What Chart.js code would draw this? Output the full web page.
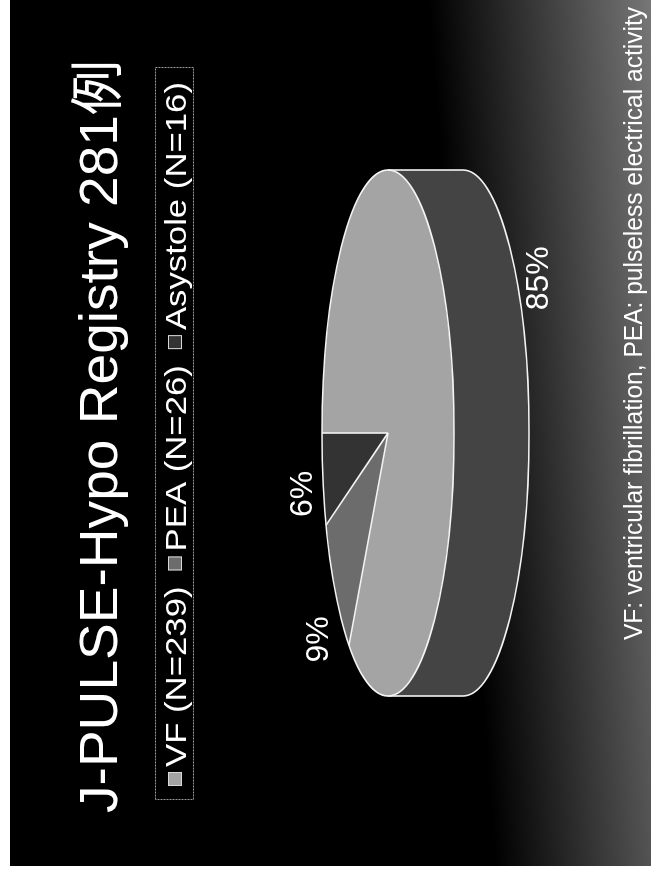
<!DOCTYPE html>
<html>
<head>
<meta charset="utf-8">
<script src="https://cdn.jsdelivr.net/npm/chart.js@4/dist/chart.umd.min.js"></script>
<style>
  html, body { margin: 0; padding: 0; background: #fff; overflow: hidden; }
  /* the slide is laid out landscape and turned a quarter turn counter-clockwise */
  #slide {
    position: absolute; left: 0; top: 0;
    width: 873px; height: 668px;
    transform-origin: 0 0;
    transform: translate(0, 873px) rotate(-90deg);
  }
  #c { display: block; }
</style>
</head>
<body>
<div id="slide"><canvas id="c" width="873" height="668"></canvas></div>
<script>
// ---- data ----
const titleText = 'J-PULSE-Hypo Registry 281例';
const categories = ['VF', 'PEA', 'Asystole'];
const counts = [239, 26, 16];
const footnote = 'VF: ventricular fibrillation, PEA: pulseless electrical activity';

// ---- styling ----
const topColors = ['#a4a4a4', '#6c6c6c', '#333333'];
const sideColors = ['#444444', '#3a3a3a', '#242424'];
const FONT = '"Liberation Sans", Arial, "Noto Sans CJK JP", sans-serif';
const TILT = 66 / 263;      // vertical squash of the pie top
const DEPTH = 75 / 263;     // wall height relative to the radius
const LABEL_R = 1.3;        // percentage labels sit just outside the rim

const total = counts.reduce((a, b) => a + b, 0);

function pieGeometry(chart) {
  const arcs = chart.getDatasetMeta(0).data;
  const p = arcs[0].getProps(['x', 'y', 'outerRadius'], true);
  return { arcs, cx: p.x, cy: p.y, r: p.outerRadius, ry: p.outerRadius * TILT, depth: p.outerRadius * DEPTH };
}

// dark slide with a grey wash towards its lower edge
const slideBackdrop = {
  id: 'slideBackdrop',
  beforeDraw(chart) {
    const ctx = chart.ctx;
    ctx.save();
    ctx.fillStyle = '#fff';
    ctx.fillRect(0, 0, chart.width, chart.height);
    const x = 7, y = 10, w = 866, h = 641;
    ctx.fillStyle = '#000';
    ctx.fillRect(x, y, w, h);
    const grad = ctx.createLinearGradient(440, 462, 457, 682);
    grad.addColorStop(0, 'rgba(0,0,0,1)');
    grad.addColorStop(1, 'rgb(118,118,118)');
    ctx.fillStyle = grad;
    ctx.fillRect(x, y, w, h);
    ctx.restore();
  }
};

// tilted pie: walls under the front rim, squashed top face, outlines and labels
const pie3d = {
  id: 'pie3d',
  beforeDatasetsDraw(chart) {
    const ctx = chart.ctx;
    const g = pieGeometry(chart);
    g.arcs.forEach((arc, i) => {
      const { startAngle: a0, endAngle: a1 } = arc.getProps(['startAngle', 'endAngle'], true);
      for (let k = -1; k <= 1; k++) {
        const s = Math.max(a0, 2 * Math.PI * k);
        const e = Math.min(a1, Math.PI + 2 * Math.PI * k);
        if (e > s) {
          ctx.beginPath();
          ctx.ellipse(g.cx, g.cy, g.r, g.ry, 0, s, e);
          ctx.ellipse(g.cx, g.cy + g.depth, g.r, g.ry, 0, e, s, true);
          ctx.closePath();
          ctx.fillStyle = sideColors[i];
          ctx.fill();
        }
      }
    });
    ctx.save();
    ctx.translate(0, g.cy);
    ctx.scale(1, TILT);
    ctx.translate(0, -g.cy);
  },
  afterDatasetsDraw(chart) {
    const ctx = chart.ctx;
    ctx.restore();
    const g = pieGeometry(chart);
    ctx.save();
    ctx.strokeStyle = '#f4f4f4';
    ctx.lineWidth = 1.6;
    ctx.lineJoin = 'round';
    // rim of the top face
    ctx.beginPath();
    ctx.ellipse(g.cx, g.cy, g.r, g.ry, 0, 0, 2 * Math.PI);
    ctx.stroke();
    // outer edge of the wall
    ctx.beginPath();
    ctx.moveTo(g.cx + g.r, g.cy);
    ctx.lineTo(g.cx + g.r, g.cy + g.depth);
    ctx.ellipse(g.cx, g.cy + g.depth, g.r, g.ry, 0, 0, Math.PI);
    ctx.lineTo(g.cx - g.r, g.cy);
    ctx.stroke();
    // slice edges
    g.arcs.forEach(arc => {
      const a = arc.getProps(['startAngle'], true).startAngle;
      ctx.beginPath();
      ctx.moveTo(g.cx, g.cy);
      ctx.lineTo(g.cx + g.r * Math.cos(a), g.cy + g.ry * Math.sin(a));
      ctx.stroke();
    });
    // percentages
    ctx.fillStyle = '#fff';
    ctx.font = '32px ' + FONT;
    ctx.textAlign = 'center';
    ctx.textBaseline = 'middle';
    g.arcs.forEach((arc, i) => {
      const { startAngle: a0, endAngle: a1 } = arc.getProps(['startAngle', 'endAngle'], true);
      const m = (a0 + a1) / 2;
      const x = g.cx + Math.cos(m) * g.r * LABEL_R;
      let y = g.cy + Math.sin(m) * g.ry * LABEL_R;
      if (Math.sin(m) > 0) y += g.depth;
      ctx.fillText(Math.round(counts[i] / total * 100) + '%', x, y);
    });
    ctx.restore();
  }
};

// write text squeezed horizontally to span x0..x1
function fitText(ctx, text, x0, x1, baseline, font) {
  ctx.font = font;
  const w = ctx.measureText(text).width;
  ctx.save();
  ctx.translate(x0, baseline);
  ctx.scale((x1 - x0) / w, 1);
  ctx.textAlign = 'left';
  ctx.textBaseline = 'alphabetic';
  ctx.fillText(text, 0, 0);
  ctx.restore();
}

// title, framed legend row and footnote
const slideText = {
  id: 'slideText',
  afterDraw(chart) {
    const ctx = chart.ctx;
    ctx.save();
    ctx.fillStyle = '#fff';
    fitText(ctx, titleText, 60, 813, 117, '54px ' + FONT);

    // legend
    const lx = 73, ly = 155, lw = 732, lh = 38, pad = 14;
    ctx.strokeStyle = '#9a9a9a';
    ctx.lineWidth = 1;
    ctx.setLineDash([2, 1]);
    ctx.strokeRect(lx + 0.5, ly + 0.5, lw, lh);
    ctx.setLineDash([]);
    const legendFont = '30px ' + FONT;
    ctx.font = legendFont;
    const labels = categories.map((c, i) => `${c} (N=${counts[i]})`);
    const widths = labels.map(t => ctx.measureText(t).width);
    const SW = 14, SG = 5, IG = 16;
    const fixed = labels.length * (SW + SG) + (labels.length - 1) * IG;
    const sx = (lw - 2 * pad - fixed) / widths.reduce((a, b) => a + b, 0);
    let x = lx + pad;
    const midY = ly + lh / 2 + 1;
    labels.forEach((t, i) => {
      ctx.fillStyle = topColors[i];
      ctx.fillRect(x, midY - SW / 2, SW, SW);
      ctx.strokeStyle = '#d8d8d8';
      ctx.strokeRect(x + 0.5, midY - SW / 2 + 0.5, SW - 1, SW - 1);
      x += SW + SG;
      ctx.fillStyle = '#fff';
      ctx.save();
      ctx.translate(x, midY + 10.5);
      ctx.scale(sx, 1);
      ctx.textAlign = 'left';
      ctx.textBaseline = 'alphabetic';
      ctx.fillText(t, 0, 0);
      ctx.restore();
      x += widths[i] * sx + IG;
    });

    ctx.fillStyle = '#fff';
    fitText(ctx, footnote, 233, 866, 642, '26px ' + FONT);
    ctx.restore();
  }
};

new Chart(document.getElementById('c'), {
  type: 'pie',
  data: {
    labels: categories,
    datasets: [{
      data: counts,
      backgroundColor: topColors,
      borderWidth: 0,
      hoverOffset: 0
    }]
  },
  options: {
    responsive: false,
    maintainAspectRatio: false,
    animation: false,
    devicePixelRatio: 1,
    events: [],
    layout: { padding: { left: 177, right: 170, top: 125, bottom: 17 } },
    plugins: {
      legend: { display: false },
      title: { display: false },
      tooltip: { enabled: false }
    }
  },
  plugins: [slideBackdrop, pie3d, slideText]
});
</script>
</body>
</html>
